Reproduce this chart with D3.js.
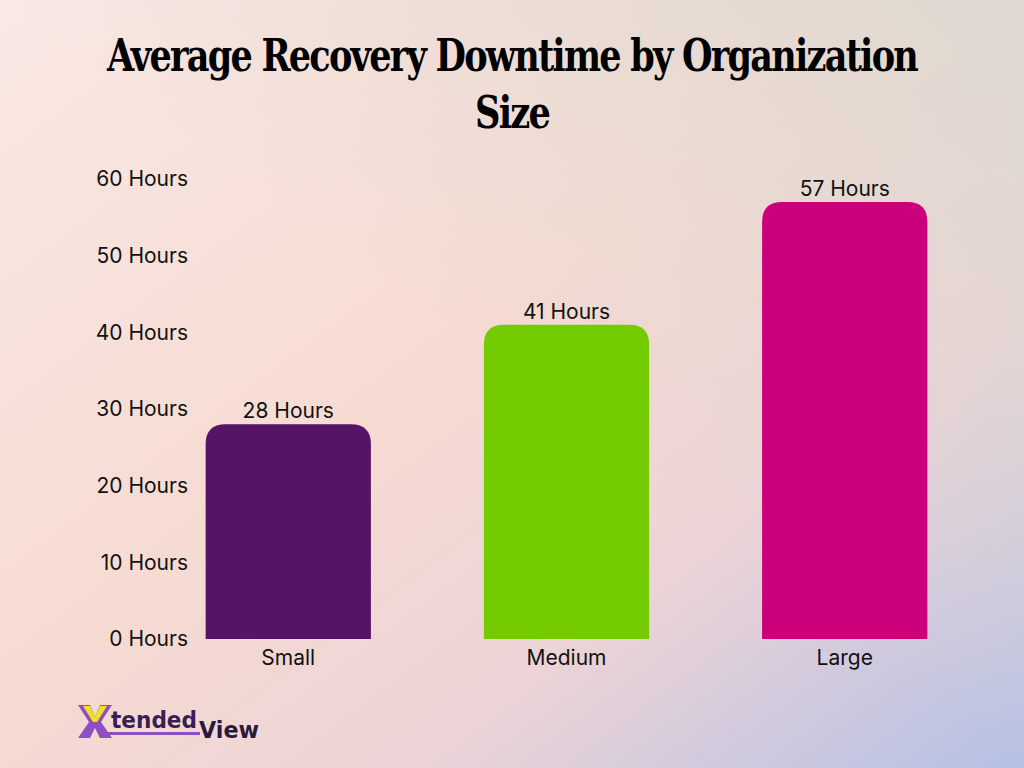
<!DOCTYPE html>
<html>
<head>
<meta charset="utf-8">
<script src="https://cdn.jsdelivr.net/npm/d3@7"></script>
<style>
  html, body { margin: 0; padding: 0; }
  svg { display: block; }
</style>
</head>
<body>
<svg width="1024" height="768"></svg>
<script>
const categories = ["Small", "Medium", "Large"];
const hours = [28, 41, 57];
const barColors = ["#561466", "#74cc00", "#cc007a"];
const tickValues = [0, 10, 20, 30, 40, 50, 60];
const tickLabels = ["0 Hours", "10 Hours", "20 Hours", "30 Hours", "40 Hours", "50 Hours", "60 Hours"];
const titleLines = ["Average Recovery Downtime by Organization", "Size"];

const svg = d3.select("svg");
const W = 1024, H = 768;
const font = "Inter, 'Noto Sans', sans-serif";

// background gradient
const defs = svg.append("defs");
const grad = defs.append("linearGradient")
  .attr("id", "bg").attr("x1", "0").attr("y1", "0").attr("x2", "1").attr("y2", "1");
grad.append("stop").attr("offset", "0%").attr("stop-color", "#f9e8e4");
grad.append("stop").attr("offset", "45%").attr("stop-color", "#f6dbd2");
grad.append("stop").attr("offset", "70%").attr("stop-color", "#ecd3d6");
grad.append("stop").attr("offset", "100%").attr("stop-color", "#b4c0e4");
svg.append("rect").attr("width", W).attr("height", H).attr("fill", "url(#bg)");

const grad2 = defs.append("linearGradient")
  .attr("id", "tr").attr("x1", "1").attr("y1", "0").attr("x2", "0.5").attr("y2", "0.5");
grad2.append("stop").attr("offset", "0%").attr("stop-color", "#dcd8d0").attr("stop-opacity", 0.9);
grad2.append("stop").attr("offset", "100%").attr("stop-color", "#dcd8d0").attr("stop-opacity", 0);
svg.append("rect").attr("width", W).attr("height", H).attr("fill", "url(#tr)");

// title
svg.append("g").selectAll("text").data(titleLines).enter().append("text")
  .attr("x", 512)
  .attr("y", (d, i) => 71 + i * 57)
  .attr("text-anchor", "middle")
  .attr("font-family", "'DejaVu Serif Condensed', 'DejaVu Serif', 'Liberation Serif', serif")
  .attr("font-stretch", "condensed")
  .attr("font-weight", "bold")
  .attr("font-size", 44)
  .attr("letter-spacing", -2)
  .attr("textLength", (d, i) => i === 0 ? 810 : 74)
  .attr("lengthAdjust", "spacingAndGlyphs")
  .attr("fill", "#000")
  .text(d => d);

// scales
const x = d3.scaleBand().domain(categories).range([150, 983])
  .paddingInner(0.406).paddingOuter(0.2);
const y = d3.scaleLinear().domain([0, 60]).range([639, 179]);

// y axis
const yAxis = svg.append("g")
  .attr("transform", "translate(188,0)")
  .call(d3.axisLeft(y).tickValues(tickValues).tickSize(0).tickPadding(0)
    .tickFormat((d, i) => tickLabels[i]));
yAxis.select(".domain").remove();
yAxis.selectAll("text")
  .attr("font-family", font).attr("font-size", 21).attr("fill", "#111");

// x axis
const xAxis = svg.append("g")
  .attr("transform", "translate(0,639)")
  .call(d3.axisBottom(x).tickSize(0).tickPadding(11));
xAxis.select(".domain").remove();
xAxis.selectAll("text")
  .attr("font-family", font).attr("font-size", 21).attr("fill", "#111");

// bars with rounded top corners
const r = 20;
function barPath(d, i) {
  const x0 = x(categories[i]), x1 = x0 + x.bandwidth();
  const yt = y(d), yb = y(0);
  return `M${x0},${yb}V${yt + r}Q${x0},${yt} ${x0 + r},${yt}H${x1 - r}Q${x1},${yt} ${x1},${yt + r}V${yb}Z`;
}
svg.append("g").selectAll("path").data(hours).enter().append("path")
  .attr("d", barPath)
  .attr("fill", (d, i) => barColors[i]);

// value labels
svg.append("g").selectAll("text").data(hours).enter().append("text")
  .attr("x", (d, i) => x(categories[i]) + x.bandwidth() / 2)
  .attr("y", d => y(d) - 6)
  .attr("text-anchor", "middle")
  .attr("font-family", font).attr("font-size", 21).attr("fill", "#111")
  .text(d => d + " Hours");

// logo
const logo = svg.append("g").attr("transform", "translate(78,705)");
logo.append("path")
  .attr("d", "M0,0H12L17,12L22,0H34L23,17L34,33H22L17,23L12,33H0L11,17Z")
  .attr("fill", "#8e4fc4");
logo.append("path")
  .attr("d", "M5,1H12L17,12L22,1H29L19,17H15Z")
  .attr("fill", "#f0e020");
logo.append("text").attr("x", 33).attr("y", 23)
  .attr("font-family", "'DejaVu Sans', sans-serif").attr("font-weight", "bold")
  .attr("font-size", 23).attr("fill", "#3b1f52")
  .attr("textLength", 86).attr("lengthAdjust", "spacingAndGlyphs")
  .text("tended");
logo.append("rect").attr("x", 30).attr("y", 27).attr("width", 92).attr("height", 3)
  .attr("fill", "#8e4fc4");
logo.append("text").attr("x", 121).attr("y", 33)
  .attr("font-family", "'DejaVu Sans', sans-serif").attr("font-weight", "bold")
  .attr("font-size", 23).attr("fill", "#2a1a3a")
  .attr("textLength", 60).attr("lengthAdjust", "spacingAndGlyphs")
  .text("View");
</script>
</body>
</html>
